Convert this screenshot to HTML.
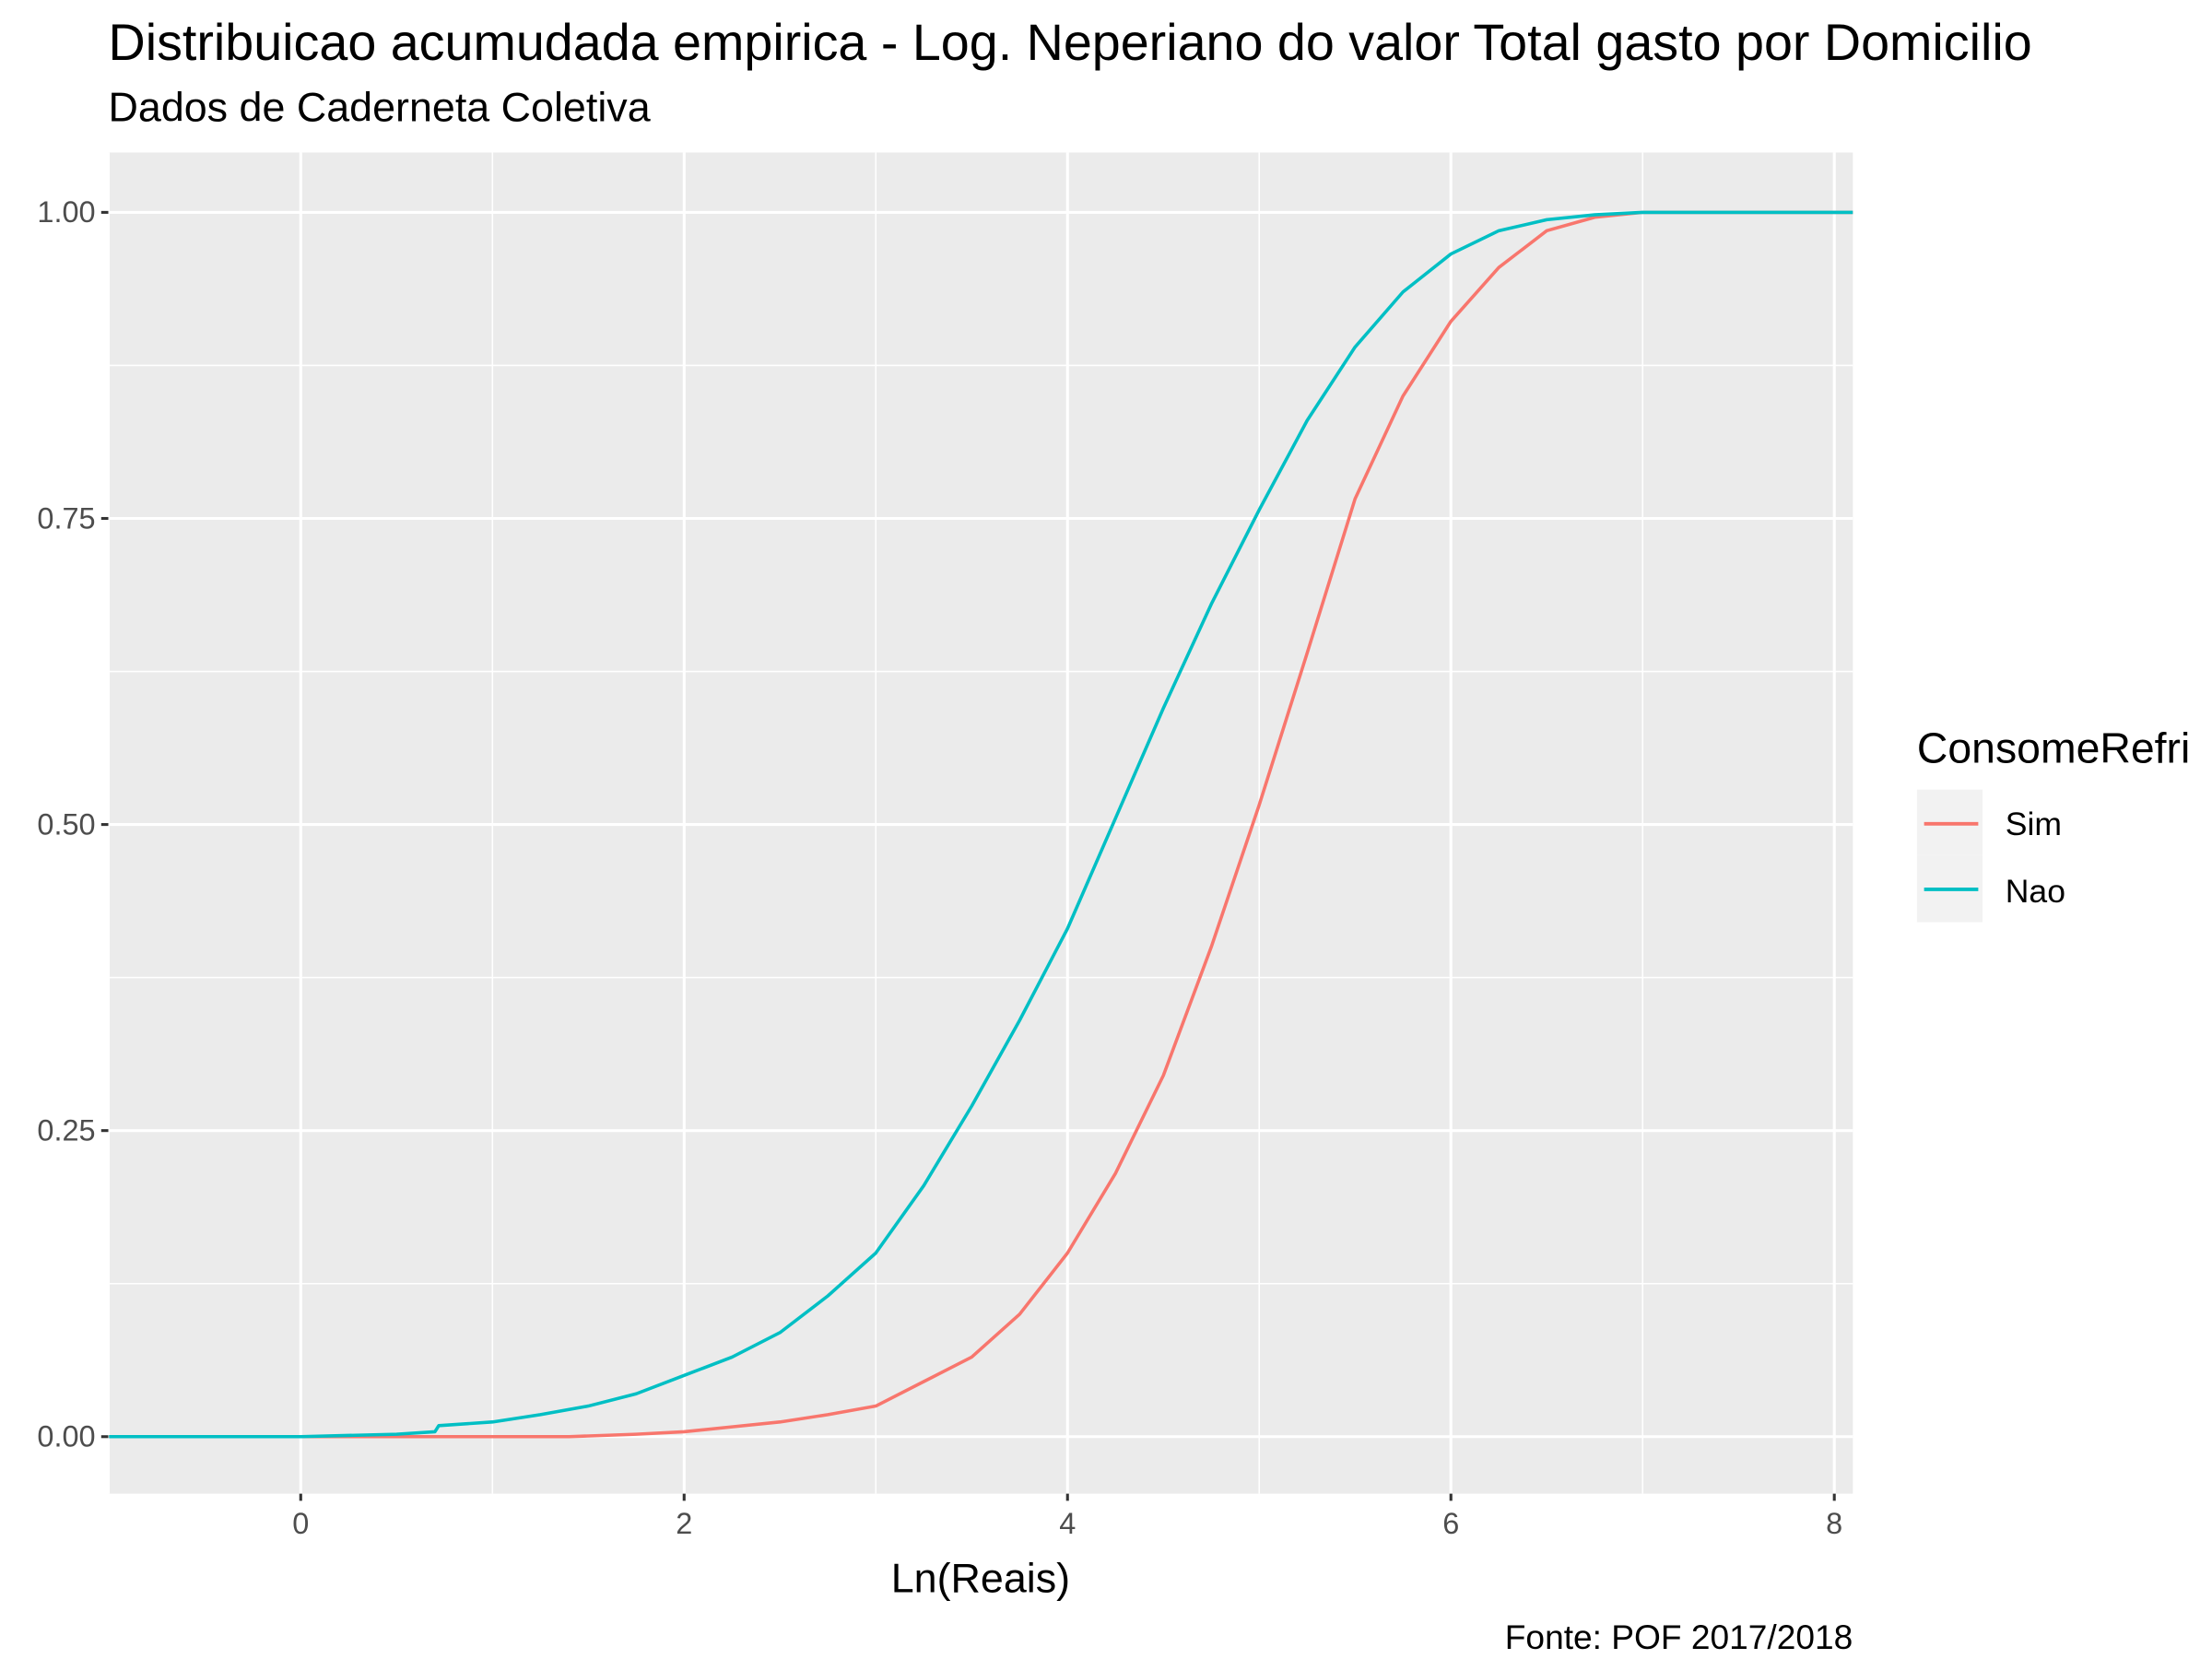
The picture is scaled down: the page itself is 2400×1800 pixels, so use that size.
<!DOCTYPE html>
<html><head><meta charset="utf-8"><style>html,body{margin:0;padding:0;background:#fff}svg{display:block}text{font-family:"Liberation Sans",Arial,sans-serif}</style></head>
<body>
<svg id="chart" width="2400" height="1800" viewBox="0 0 1552 1164" xmlns="http://www.w3.org/2000/svg">
<text x="76" y="42" font-size="36" fill="#000">Distribuicao acumudada empirica - Log. Neperiano do valor Total gasto por Domicilio</text>
<text x="76" y="85" font-size="29" fill="#000">Dados de Caderneta Coletiva</text>
<rect x="76" y="107" width="1224" height="941" fill="#EBEBEB"/>
<g id="grid"></g>
<g id="ticks"></g>
<g id="series"></g>
<text x="688" y="1117" font-size="29" text-anchor="middle" fill="#000">Ln(Reais)</text>
<text x="1300" y="1157" font-size="24" text-anchor="end" fill="#000">Fonte: POF 2017/2018</text>
<g>
<text x="1345" y="535" font-size="30" fill="#000">ConsomeRefri</text>
<rect x="1345" y="554" width="46" height="46" fill="#F2F2F2"/>
<rect x="1345" y="600" width="46" height="47" fill="#F2F2F2"/>
<line x1="1350" x2="1388" y1="578" y2="578" stroke="#F8766D" stroke-width="2.5"/>
<line x1="1350" x2="1388" y1="624" y2="624" stroke="#00BFC4" stroke-width="2.5"/>
<text x="1407" y="586" font-size="23" fill="#000">Sim</text>
<text x="1407" y="633" font-size="23" fill="#000">Nao</text>
</g>
</svg>
<script>
const xTicks = [0, 2, 4, 6, 8];
const xMinor = [-1, 1, 3, 5, 7];
const yTicks = [0, 0.25, 0.5, 0.75, 1];
const yTickLabels = ["0.00", "0.25", "0.50", "0.75", "1.00"];
const yMinor = [0.125, 0.375, 0.625, 0.875];
const simX = [-1, 1.4, 1.75, 2, 2.25, 2.5, 2.75, 3, 3.25, 3.5, 3.75, 4, 4.25, 4.5, 4.75, 5, 5.25, 5.5, 5.75, 6, 6.25, 6.5, 6.75, 7, 8.1];
const simY = [0, 0, 0.002, 0.004, 0.008, 0.012, 0.018, 0.025, 0.045, 0.065, 0.1, 0.15, 0.215, 0.295, 0.4, 0.516, 0.64, 0.766, 0.85, 0.911, 0.955, 0.985, 0.996, 1, 1];
const naoX = [-1, 0, 0.5, 0.7, 0.72, 1, 1.25, 1.5, 1.75, 2, 2.25, 2.5, 2.75, 3, 3.25, 3.5, 3.75, 4, 4.25, 4.5, 4.75, 5, 5.25, 5.5, 5.75, 6, 6.25, 6.5, 6.75, 7, 8.1];
const naoY = [0, 0, 0.002, 0.004, 0.009, 0.012, 0.018, 0.025, 0.035, 0.05, 0.065, 0.085, 0.115, 0.15, 0.205, 0.27, 0.34, 0.415, 0.505, 0.595, 0.68, 0.757, 0.83, 0.89, 0.935, 0.966, 0.985, 0.994, 0.998, 1, 1];

const NS = "http://www.w3.org/2000/svg";
const L = 76, R = 1300, T = 107, B = 1048;
function sx(v) { return 211 + (v - 0) * 134.5; }
function sy(v) { return 1008 - v * 859; }
function mk(tag, attrs, parent) {
  const e = document.createElementNS(NS, tag);
  for (const k in attrs) e.setAttribute(k, attrs[k]);
  parent.appendChild(e);
  return e;
}
const grid = document.getElementById('grid');
const ticks = document.getElementById('ticks');
const series = document.getElementById('series');
xMinor.forEach(v => {
  const l = mk('line', {x1: sx(v), x2: sx(v), y1: T, y2: B, stroke: '#fff', 'stroke-width': 1}, grid);
  
  
});
yMinor.forEach(v => {
  const l = mk('line', {x1: L, x2: R, y1: sy(v), y2: sy(v), stroke: '#fff', 'stroke-width': 1}, grid);
  
  
});
xTicks.forEach(v => {
  const l = mk('line', {x1: sx(v), x2: sx(v), y1: T, y2: B, stroke: '#fff', 'stroke-width': 2}, grid);
  
  
  const t = mk('line', {x1: sx(v), x2: sx(v), y1: B, y2: B + 5, stroke: '#333', 'stroke-width': 2}, ticks);
  
  
  const tx = mk('text', {x: sx(v), y: B + 28, 'font-size': 21, 'text-anchor': 'middle', fill: '#4D4D4D'}, ticks);
  tx.textContent = String(v);
  
  
});
yTicks.forEach((v, i) => {
  const l = mk('line', {x1: L, x2: R, y1: sy(v), y2: sy(v), stroke: '#fff', 'stroke-width': 2}, grid);
  
  
  const t = mk('line', {x1: L - 5, x2: L, y1: sy(v), y2: sy(v), stroke: '#333', 'stroke-width': 2}, ticks);
  
  
  const tx = mk('text', {x: L - 9, y: sy(v) + 7, 'font-size': 21, 'text-anchor': 'end', fill: '#4D4D4D'}, ticks);
  tx.textContent = yTickLabels[i];
  
  
});
function clampX(v) { return Math.min(Math.max(sx(v), L), R); }
const simPts = simX.map((x, i) => clampX(x) + ',' + sy(simY[i])).join(' ');
const simLine = mk('polyline', {points: simPts, fill: 'none', stroke: '#F8766D', 'stroke-width': 2.3, 'stroke-linejoin': 'round'}, series);


const naoPts = naoX.map((x, i) => clampX(x) + ',' + sy(naoY[i])).join(' ');
const naoLine = mk('polyline', {points: naoPts, fill: 'none', stroke: '#00BFC4', 'stroke-width': 2.3, 'stroke-linejoin': 'round'}, series);


</script>
</body></html>
